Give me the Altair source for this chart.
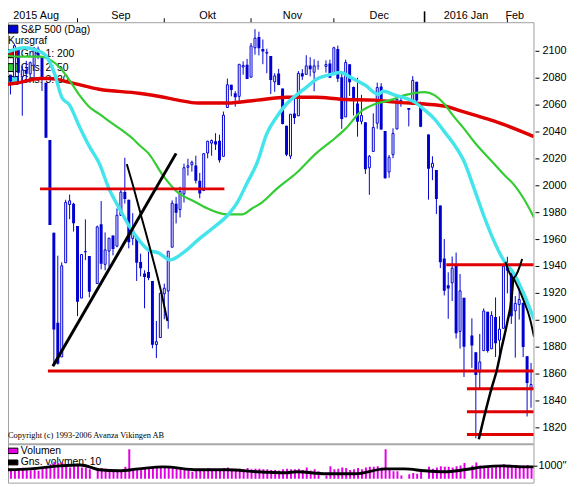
import altair as alt
import pandas as pd

# ---------------- calendar ----------------
FIRST_SLOT_DAY = "2015-08-03"      # first weekday slot of the time axis
FIRST_TRADE_DAY = "2015-08-05"
LAST_DAY = "2016-02-09"
HOLIDAYS = ["2015-09-07", "2015-11-26", "2015-12-25", "2016-01-01", "2016-01-18"]
MONTH_LABELS = ["2015 Aug", "Sep", "Okt", "Nov", "Dec", "2016 Jan", "Feb"]

# ---------------- S&P 500 daily OHLC (Aug 5 2015 .. Feb 9 2016) ----------------
OPEN = [
    2095.27, 2100.75, 2082.61, 2080.98, 2102.66, 2081.10, 2086.19, 2083.15, 2089.70, 2101.99,
    2095.69, 2076.61, 2034.08, 1965.15, 1898.08, 1872.75, 1942.77, 1986.06, 1986.73,
    1970.09, 1916.52, 1950.79, 1947.76, 1927.30, 1971.45, 1941.59, 1951.45, 1963.06, 1955.10,
    1978.02, 1995.33, 1989.66, 1960.84, 1961.39, 1943.24, 1934.81, 1935.93, 1929.18, 1881.90, 1887.14,
    1919.65, 1921.77, 1954.33, 1986.63, 1982.34, 1994.01, 2013.73, 2015.65, 2015.00, 2003.66,
    1996.47, 2024.37, 2031.73, 2033.13, 2033.47, 2021.88, 2058.19, 2075.08, 2068.75, 2066.48, 2088.35, 2090.00,
    2080.76, 2102.63, 2110.60, 2101.68, 2098.60, 2096.56, 2077.19, 2083.41, 2072.29, 2044.64,
    2022.08, 2053.67, 2051.99, 2083.70, 2082.82, 2089.41, 2084.42, 2089.30, 2088.82, 2090.95,
    2082.93, 2101.71, 2080.71, 2051.24, 2090.42, 2073.39, 2061.17, 2047.93, 2047.27, 2013.37,
    2025.55, 2046.50, 2073.76, 2040.81, 2010.27, 2023.15, 2042.20, 2063.52, 2057.77, 2060.54, 2077.34, 2060.59,
    2038.20, 2013.78, 2011.71, 1985.32, 1945.97, 1926.12, 1927.83, 1940.34, 1891.68, 1916.68,
    1888.66, 1876.18, 1861.46, 1877.40, 1906.28, 1878.79, 1902.52, 1885.22, 1894.00,
    1936.94, 1935.26, 1907.07, 1911.67, 1913.07, 1873.25, 1848.46,
]
HIGH = [
    2112.66, 2103.32, 2082.61, 2105.35, 2102.66, 2089.06, 2092.93, 2092.45, 2102.87, 2103.47,
    2096.17, 2076.61, 2034.08, 1965.15, 1948.04, 1943.09, 1989.60, 1993.48, 1987.37,
    1970.09, 1948.91, 1975.01, 1947.76, 1970.42, 1988.63, 1965.29, 1961.05, 1963.06, 1983.19,
    1997.26, 2020.86, 1989.66, 1979.64, 1961.39, 1949.52, 1937.17, 1952.89, 1929.18, 1899.48, 1920.53,
    1927.21, 1951.36, 1989.17, 1991.62, 1999.31, 2016.50, 2020.13, 2018.66, 2022.34, 2009.56,
    2024.15, 2033.54, 2034.45, 2039.12, 2037.97, 2055.20, 2079.74, 2075.14, 2070.37, 2090.35, 2092.52, 2094.32,
    2106.20, 2116.48, 2114.59, 2108.78, 2101.91, 2096.56, 2083.67, 2086.94, 2072.29, 2044.64,
    2053.22, 2066.69, 2085.31, 2086.74, 2097.06, 2095.61, 2094.12, 2093.00, 2093.29, 2093.81,
    2103.37, 2104.27, 2085.00, 2093.84, 2090.42, 2073.85, 2080.33, 2067.65, 2047.27, 2022.92,
    2053.87, 2076.72, 2076.37, 2040.81, 2022.90, 2042.74, 2064.73, 2067.36, 2057.77, 2081.56, 2077.34, 2062.54,
    2038.20, 2021.94, 2011.71, 1985.32, 1960.40, 1935.65, 1947.38, 1950.33, 1934.47, 1916.68,
    1901.44, 1876.18, 1889.85, 1908.85, 1906.28, 1906.73, 1916.98, 1902.96, 1940.24,
    1947.20, 1935.26, 1918.01, 1927.35, 1913.07, 1873.25, 1868.25,
]
LOW = [
    2095.27, 2075.53, 2067.91, 2080.98, 2076.49, 2052.09, 2078.26, 2080.61, 2079.30, 2094.14,
    2070.53, 2035.73, 1970.89, 1867.01, 1867.08, 1872.75, 1942.77, 1975.19, 1965.99,
    1903.07, 1916.52, 1944.72, 1916.98, 1927.30, 1937.88, 1937.19, 1939.19, 1948.27, 1954.30,
    1977.93, 1986.73, 1953.45, 1955.80, 1929.22, 1932.57, 1908.92, 1929.83, 1879.21, 1871.91, 1887.14,
    1900.70, 1893.70, 1954.33, 1971.99, 1976.44, 1987.53, 2007.61, 2010.55, 2001.78, 1990.73,
    1996.47, 2020.46, 2022.31, 2026.61, 2017.22, 2021.88, 2058.19, 2066.53, 2058.84, 2063.11, 2082.63, 2079.34,
    2080.76, 2097.51, 2096.98, 2090.41, 2083.74, 2068.24, 2069.91, 2074.85, 2045.66, 2022.02,
    2019.94, 2045.90, 2051.99, 2078.76, 2082.82, 2081.39, 2070.29, 2086.30, 2084.13, 2080.41,
    2082.93, 2077.11, 2042.35, 2051.24, 2066.78, 2052.32, 2036.53, 2045.67, 2008.80, 1993.26,
    2025.55, 2042.43, 2041.66, 2005.33, 2005.93, 2020.49, 2042.20, 2058.73, 2044.20, 2060.54, 2061.97, 2043.62,
    1989.68, 2004.17, 1979.05, 1938.83, 1918.46, 1901.10, 1914.35, 1886.41, 1878.93, 1857.83,
    1864.60, 1812.29, 1848.98, 1877.40, 1875.97, 1878.79, 1872.70, 1873.65, 1894.00,
    1920.03, 1897.29, 1872.23, 1900.52, 1872.65, 1828.46, 1834.94,
]
CLOSE = [
    2099.84, 2083.56, 2077.57, 2104.18, 2084.07, 2086.05, 2083.39, 2091.54, 2102.44, 2096.92,
    2079.61, 2035.73, 1970.89, 1893.21, 1867.61, 1940.51, 1987.66, 1988.87, 1972.18,
    1913.85, 1948.86, 1951.13, 1921.22, 1969.41, 1942.04, 1952.29, 1961.05, 1953.03, 1978.09,
    1995.31, 1990.20, 1958.03, 1966.97, 1942.74, 1938.76, 1932.24, 1931.34, 1881.77, 1884.09, 1920.03,
    1923.82, 1951.36, 1987.05, 1979.92, 1995.83, 2013.43, 2014.89, 2017.46, 2003.69, 1994.24,
    2023.86, 2033.11, 2033.66, 2030.77, 2018.94, 2052.51, 2075.15, 2071.18, 2065.89, 2090.35, 2089.41, 2079.36,
    2104.05, 2109.79, 2102.31, 2099.93, 2099.20, 2078.58, 2081.72, 2075.00, 2045.97, 2023.04,
    2053.19, 2050.44, 2083.58, 2081.24, 2089.17, 2086.59, 2089.14, 2088.87, 2090.11, 2080.41,
    2102.63, 2079.51, 2049.62, 2091.69, 2077.07, 2063.59, 2047.62, 2052.23, 2012.37, 2021.94,
    2043.41, 2073.07, 2041.89, 2005.55, 2021.15, 2038.97, 2064.29, 2060.99, 2056.50, 2078.36, 2063.36, 2043.94,
    2012.66, 2016.71, 1990.26, 1943.09, 1922.03, 1923.67, 1938.68, 1890.28, 1921.84, 1880.33,
    1881.33, 1859.33, 1868.99, 1906.90, 1877.08, 1903.63, 1882.95, 1893.36, 1940.24,
    1939.38, 1903.03, 1912.53, 1915.45, 1880.05, 1853.44, 1852.21,
]
VOLUME = [
    780, 820, 760, 700, 830, 880, 700, 680, 690, 640, 860, 1000, 1150, 1350, 1250, 1300, 1150, 900, 1000,
    1050, 900, 850, 750, 850, 850, 800, 700, 650, 700, 700, 950, 2350, 700, 850, 700, 850, 800, 900, 850, 950,
    850, 900, 850, 800, 800, 800, 700, 550, 650, 700, 750, 850, 650, 700, 750, 850, 900, 650, 750, 800, 750, 850,
    750, 800, 800, 750, 750, 700, 700, 650, 750, 800, 750, 750, 800, 700, 900, 650, 750, 600, 250, 1000,
    750, 800, 900, 850, 700, 750, 850, 750, 900, 950, 950, 1000, 900, 2350, 700, 600, 600, 250, 350, 450, 400, 550,
    950, 800, 900, 1000, 950, 950, 900, 1000, 1050, 1250, 1050, 1300, 1050, 1000, 850, 900, 950, 950, 1150,
    950, 1050, 1100, 1000, 1050, 1100, 1000,
]

# moving averages (slot, value)
MA200_S = [1.5, 6.5, 11.5, 14, 19, 26.5, 36.5, 41.5, 46.5, 51.5, 59, 66.5, 74, 81.5, 87.75, 96.5,
           101.5, 109, 114, 119, 121.5, 126.5, 136.75]
MA200_V = [2074.7, 2076.9, 2079.8, 2079.8, 2076.9, 2071.8, 2068.8, 2066.6, 2063.7, 2061.5, 2061.5, 2063.7,
           2065.9, 2065.9, 2064.4, 2063.7, 2062.2, 2060.8, 2059.3, 2054.9, 2052.7, 2048.3, 2036.6]
MA50_S = [1.5, 6.5, 11.5, 14, 16.5, 19, 21.5, 24, 26.5, 30.25, 32.75, 35.25, 36.5, 39, 42.75, 46.5, 50.25,
          54, 59, 62.75, 65.25, 67.75, 71.5, 76.5, 81.5, 86.5, 89, 92.75, 96.5, 100.25, 104, 109, 111.5,
          114, 116.5, 119, 121.5, 126.5, 129, 131.5, 134, 136.75]
MA50_V = [2097.4, 2096.0, 2096.0, 2093.8, 2087.9, 2078.4, 2067.4, 2058.6, 2053.4, 2045.4, 2040.3, 2034.4,
          2030.7, 2024.1, 2007.3, 1994.8, 1988.9, 1983.1, 1978.7, 1978.7, 1983.1, 1987.5, 1997.7, 2009.5,
          2024.1, 2035.9, 2042.5, 2054.9, 2060.8, 2063.7, 2067.4, 2069.6, 2067.4, 2060.8, 2051.2, 2042.5,
          2032.9, 2016.8, 2008.7, 2001.4, 1991.1, 1976.5]
MA20_S = [1.5, 4, 7.75, 10.25, 12.75, 15.25, 17, 19, 21.5, 24, 26.5, 29, 31.5, 34, 36, 39, 41.5, 44.5,
          47.75, 51.5, 55.25, 59, 61.5, 64, 66.5, 69, 71.5, 74, 76.5, 79, 81.5, 85.25, 87.75, 90.25, 94,
          97.25, 98.5, 101.5, 106.5, 109, 111.5, 114, 116.5, 119, 121.5, 124, 126.5, 129, 131.5, 134, 136.75]
MA20_V = [2097.4, 2100.4, 2102.6, 2101.1, 2097.4, 2082.8, 2065.9, 2060.0, 2043.9, 2029.3, 2016.8, 1997.7,
          1983.8, 1970.6, 1961.8, 1952.3, 1950.1, 1944.9, 1950.1, 1959.6, 1968.4, 1977.9, 1987.5, 2002.1,
          2016.8, 2038.8, 2051.2, 2060.8, 2067.4, 2073.2, 2079.1, 2082.8, 2084.2, 2080.6, 2074.7, 2068.1,
          2070.3, 2067.4, 2062.2, 2056.4, 2049.8, 2040.3, 2030.7, 2018.3, 1998.5, 1977.9, 1959.6, 1944.9,
          1935.4, 1920.7, 1900.9]
VAVG_S = [1.5, 9, 16.5, 21.5, 24, 26.5, 31.5, 36.5, 42.75, 51.5, 59, 66.5, 74, 76.5, 84, 91.5, 99, 104,
          109, 114, 119, 124, 129, 134, 136.75]
VAVG_V = [709, 787, 1024, 1102, 945, 709, 630, 787, 945, 709, 709, 551, 472, 551, 394, 394, 787, 787,
          630, 551, 709, 945, 1024, 945, 945]

# horizontal support / resistance lines
SUP_PRICE = [1997.7, 1862.2, 1941.3, 1849.1, 1832.0, 1815.0]
SUP_FROM = [11.5, 13.5, 114.5, 119.75, 119.75, 119.75]
SUP_TO = [58.25, 136.75, 136.75, 136.75, 136.75, 136.75]

# black trend lines (slot lists / value lists)
TREND_S = [[14.75, 46.0],
           [33.5, 34.75, 37.25, 39.5, 42.25, 43.8],
           [122.75, 124.5, 126.0, 127.25, 128.5, 130.0, 131.0, 131.5],
           [129.5, 131.5, 133.75],
           [131.5, 134.0, 135.75, 136.75]]
TREND_V = [[1865.8, 2024.1],
           [2016.1, 2003.6, 1976.5, 1952.3, 1920.7, 1899.5],
           [1811.5, 1832.8, 1849.6, 1862.1, 1879.0, 1898.8, 1915.0, 1931.7],
           [1943.4, 1931.7, 1945.6],
           [1931.7, 1915.6, 1900.9, 1887.7]]
TREND_W = [3, 2, 2.5, 2, 2]

PRICE_TICKS = list(range(1820, 2101, 20))
VOL_TICK = 1000

# ---------------- layout constants ----------------
W, H = 533, 467
BLUE = "#0000d2"
RED = "#e00000"
GREEN = "#33cc33"
CYAN = "#44e4ec"
MAGENTA = "#e400e4"
FONT = "Liberation Sans"

wd = pd.bdate_range(FIRST_SLOT_DAY, LAST_DAY)
slot_of = {d.strftime("%Y-%m-%d"): i for i, d in enumerate(wd)}
days = [d for d in slot_of if d >= FIRST_TRADE_DAY and d not in HOLIDAYS]
month_starts = [i for i, d in enumerate(wd) if i == 0 or d.month != wd[i - 1].month]

c = pd.DataFrame({"s": [slot_of[d] for d in days], "o": OPEN, "h": HIGH, "l": LOW,
                  "c": CLOSE, "vol": VOLUME})
c["top"] = c[["o", "c"]].max(axis=1)
c["bot"] = c[["o", "c"]].min(axis=1)
c["up"] = c["c"] >= c["o"]
c["xa"] = c["s"] - 0.375
c["xb"] = c["s"] + 0.375
c["xha"] = c["s"] - 0.25
c["xhb"] = c["s"] + 0.25
c["va"] = c["s"] - 0.125
c["vb"] = c["s"] + 0.375
c["zero"] = 0

XS = alt.Scale(domain=[3.375, 136.625], nice=False, zero=False)
PS = alt.Scale(domain=[1779.25, 2121.63], nice=False, zero=False)
VS = alt.Scale(domain=[-315, 36457], nice=False, zero=False)

def X(f):
    return alt.X(f, type="quantitative", scale=XS, axis=None)

def PY(f):
    return alt.Y(f, type="quantitative", scale=PS, axis=None)

def VY(f):
    return alt.Y(f, type="quantitative", scale=VS, axis=None)

one = pd.DataFrame({"k": [0]})

def box(x0, x1, y0, y1, fill, stroke="#000000"):
    return alt.Chart(one).mark_rect(fill=fill, stroke=stroke, strokeWidth=1).encode(
        x=alt.value(x0), x2=alt.value(x1), y=alt.value(y0), y2=alt.value(y1))

def label(x, y, txt, size=10.5, font=FONT):
    return alt.Chart(one).mark_text(text=txt, align="left", baseline="middle", fontSize=size,
                                    font=font, color="black").encode(x=alt.value(x), y=alt.value(y))

# ---- top month axis ----
mids = [(month_starts[i] + month_starts[i + 1]) / 2 for i in range(len(month_starts) - 1)]
mdf = pd.DataFrame({"lab": MONTH_LABELS, "s": mids + [month_starts[-1]],
                    "al": ["c"] * (len(MONTH_LABELS) - 1) + ["l"]})
month_c = alt.Chart(mdf[mdf.al == "c"]).mark_text(baseline="alphabetic", align="center",
                                                  fontSize=11, font=FONT, color="black").encode(
    x=X("s"), y=alt.value(-3), text="lab:N")
month_l = alt.Chart(mdf[mdf.al == "l"]).mark_text(baseline="alphabetic", align="left", dx=-2,
                                                  fontSize=11, font=FONT, color="black").encode(
    x=X("s"), y=alt.value(-3), text="lab:N")
tdf = pd.DataFrame({"s": month_starts[1:]})
tdf["year"] = [wd[s].month == 1 for s in month_starts[1:]]
ticks_m = alt.Chart(tdf[~tdf.year]).mark_rule(color="black", strokeWidth=1).encode(
    x=X("s"), y=alt.value(-4), y2=alt.value(0))
ticks_y = alt.Chart(tdf[tdf.year]).mark_rule(color="black", strokeWidth=1.6).encode(
    x=X("s"), y=alt.value(-11), y2=alt.value(0))

# ---- legend (drawn under the data) ----
legend = [
    box(0, 10, 3, 11, BLUE), label(13, 7.5, "S&P 500 (Dag)"),
    label(0, 19.5, "Kursgraf"),
    box(0, 10, 28, 36, RED), label(13, 32, "Gns. 1: 200"),
    box(0, 10, 42, 50, GREEN), label(13, 46, "Gns. 2: 50"),
    box(0, 10, 55, 63, CYAN), label(13, 59, "Gns. 3: 20"),
    label(0, 418.5, "Copyright (c) 1993-2006 Avanza Vikingen AB", size=8.5, font="Liberation Serif"),
]

# ---- price axis (right side, drawn as marks) ----
axis_df = pd.DataFrame({"p": PRICE_TICKS, "t": [str(v) for v in PRICE_TICKS]})
ax_ticks = alt.Chart(axis_df).mark_rule(color="black", strokeWidth=1).encode(
    x=alt.value(W + 2), x2=alt.value(W + 6), y=PY("p"))
ax_labels = alt.Chart(axis_df).mark_text(align="left", baseline="middle", fontSize=11, font=FONT,
                                         color="black").encode(
    x=alt.value(W + 9), y=PY("p"), text="t:N")

# ---- candles ----
wicks = alt.Chart(c).mark_rule(color=BLUE, strokeWidth=1, clip=True).encode(
    x=X("s"), y=PY("l"), y2="h")
down = alt.Chart(c[~c.up]).mark_rect(color=BLUE, clip=True).encode(
    x=X("xa"), x2="xb", y=PY("top"), y2="bot")
upc = alt.Chart(c[c.up]).mark_rect(fill="white", stroke=BLUE, strokeWidth=1, clip=True).encode(
    x=X("xha"), x2="xhb", y=PY("top"), y2="bot")

def ma(sl, vl, color, width):
    d = pd.DataFrame({"s": sl, "v": vl})
    return alt.Chart(d).mark_line(color=color, strokeWidth=width, interpolate="monotone",
                                  clip=True).encode(x=X("s"), y=PY("v"))

ma200 = ma(MA200_S, MA200_V, RED, 3.5)
ma50 = ma(MA50_S, MA50_V, GREEN, 2.2)
ma20 = ma(MA20_S, MA20_V, CYAN, 3.5)

sup = pd.DataFrame({"p": SUP_PRICE, "a": SUP_FROM, "b": SUP_TO})
sup_layer = alt.Chart(sup).mark_rule(color=RED, strokeWidth=3, clip=True).encode(
    x=X("a"), x2="b", y=PY("p"))

trend_layers = []
for i, (sl, vl) in enumerate(zip(TREND_S, TREND_V)):
    d = pd.DataFrame({"s": sl, "v": vl, "o": list(range(len(sl)))})
    trend_layers.append(alt.Chart(d).mark_line(color="black", strokeWidth=TREND_W[i],
                                               interpolate="monotone", clip=True).encode(
        x=X("s"), y=PY("v"), order="o:Q"))

sep = alt.Chart(pd.DataFrame({"p": [1807.84]})).mark_rule(color="#a8a8a8", strokeWidth=2).encode(
    x=alt.value(0), x2=alt.value(W), y=PY("p"))

price = alt.layer(*legend, wicks, down, upc, ma200, ma50, ma20, sup_layer,
                  *trend_layers, sep, month_c, month_l, ticks_m, ticks_y, ax_ticks, ax_labels)

# ---- volume panel ----
vbars = alt.Chart(c).mark_rect(color=MAGENTA, clip=True).encode(
    x=X("va"), x2="vb", y=VY("vol"), y2="zero")
vavg = alt.Chart(pd.DataFrame({"s": VAVG_S, "v": VAVG_V})).mark_line(
    color="black", strokeWidth=3, interpolate="monotone", clip=True).encode(x=X("s"), y=VY("v"))
vt = pd.DataFrame({"v": [VOL_TICK], "t": [str(VOL_TICK) + "''"]})
vtick = alt.Chart(vt).mark_rule(color="black").encode(x=alt.value(W), x2=alt.value(W + 4), y=VY("v"))
vlab = alt.Chart(vt).mark_text(align="left", baseline="middle", fontSize=11, font=FONT,
                               color="black").encode(x=alt.value(W + 5), y=VY("v"), text="t:N")
vleg = [box(0, 10, 432, 437.5, MAGENTA), label(13, 434.5, "Volumen"),
        box(0, 10, 444, 449, "#000000"), label(13, 446, "Gns. volymen: 10")]
volume = alt.layer(*vleg, vbars, vavg, vtick, vlab)

chart = alt.layer(price, volume).resolve_scale(y="independent").properties(
    width=W, height=H,
    padding={"top": 11, "left": 0, "right": 36, "bottom": 2},
    autosize=alt.AutoSizeParams(type="none"),
    background="white",
).configure_view(stroke="#a0a0a0", strokeWidth=1)

chart.save("out.html", embed_options={"renderer": "svg", "actions": False})
